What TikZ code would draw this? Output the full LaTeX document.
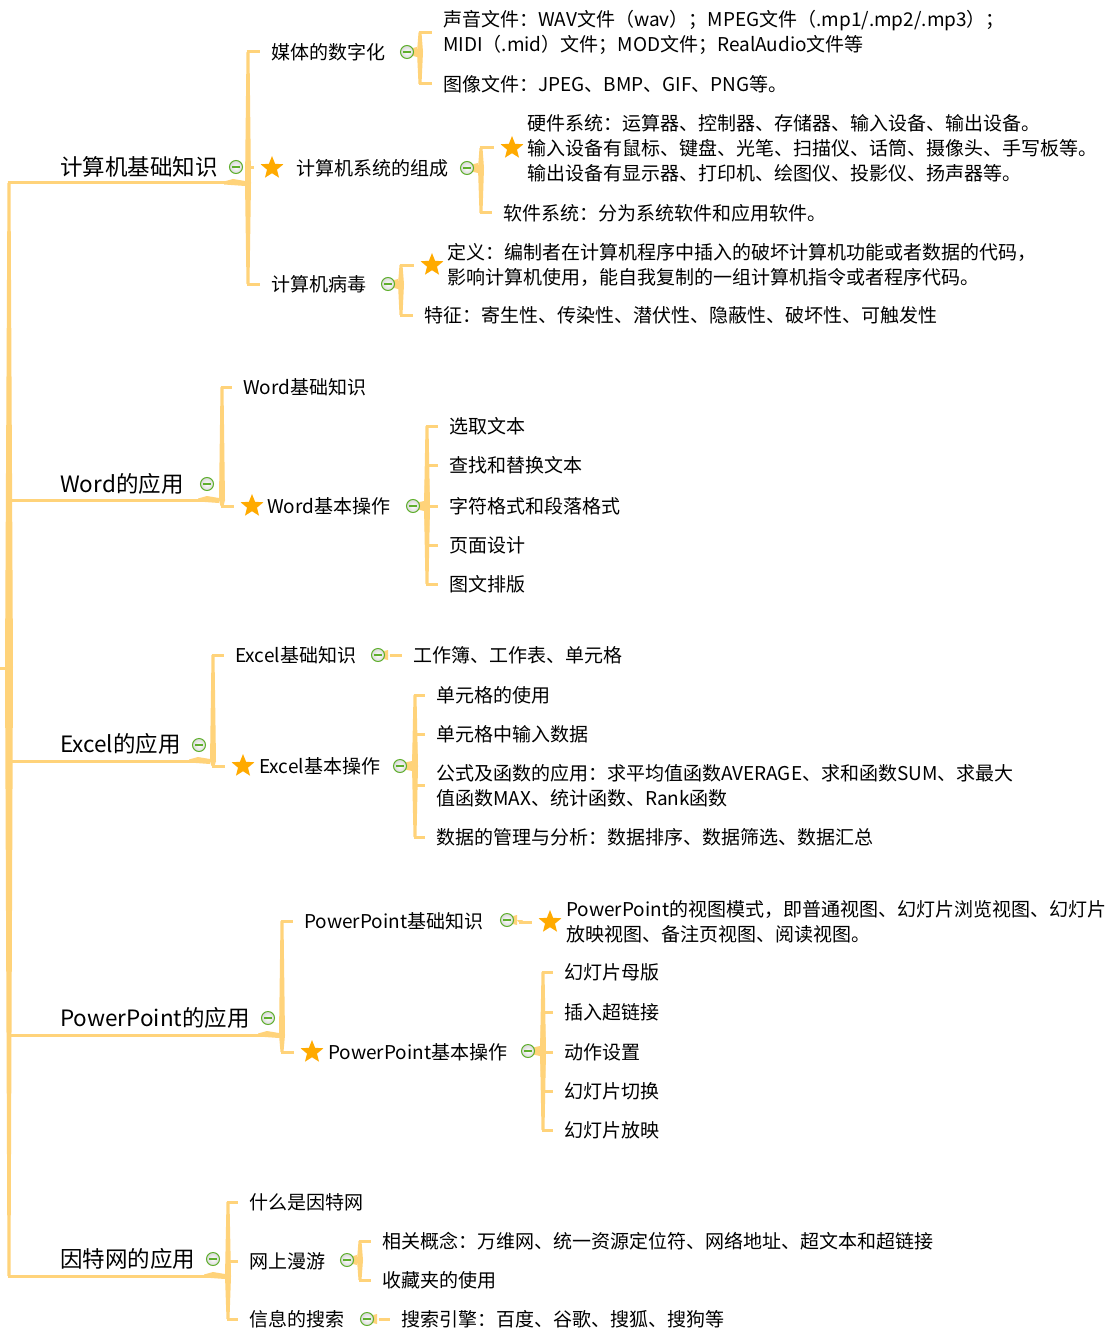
\documentclass[tikz,border=0pt]{standalone}
\usepackage{fontspec}
\setmainfont{Noto Sans CJK SC}
\usetikzlibrary{shapes.geometric,calc,backgrounds}

\definecolor{forkc}{RGB}{255,211,122}
\definecolor{starc}{RGB}{255,170,0}
\definecolor{minusc}{RGB}{95,175,45}

\tikzset{
  maintopic/.style={anchor=west,inner sep=0pt,font=\fontsize{22.5}{28}\selectfont},
  subtopic/.style={anchor=west,inner sep=0pt,align=left,font=\fontsize{19}{25}\selectfont},
  foldmark/.style={circle,draw=minusc,line width=1pt,inner color=white,outer color=black!15,
    minimum size=13pt,inner sep=0pt,
    path picture={\draw[minusc,line width=1.4pt] (path picture bounding box.center) +(-3.8pt,0) -- +(3.8pt,0);}},
  prio/.style={star,star points=5,star point ratio=2.3,fill=starc,inner sep=0pt,minimum size=24pt,outer sep=0pt},
  forkline/.style={forkc,line width=3pt},
}

% one bracket: tip coordinate -> every child
\newcommand\mmfork[2]{%
  \foreach \kid in {#2}{
    \fill[forkc] ($(#1)+(-3pt,0)$) -- ($(#1 |- \kid.west)+(-1.5pt,0)$)
      -- ($(#1 |- \kid.west)+(1.5pt,0)$) -- ($(#1)+(3pt,0)$) -- cycle;
    \draw[forkline] ($(#1 |- \kid.west)+(-1.5pt,0)$) -- ($(\kid.west)+(-11pt,0)$);
  }}
% wedge from a fold mark into its bracket
\newcommand\mmtip[2]{%
  \fill[forkc] ($(#1.center)+(0,2.5pt)$) -- ($(#2)+(-3pt,5pt)$)
    -- ($(#2)+(-3pt,-5pt)$) -- ($(#1.center)+(0,-2.5pt)$) -- cycle;}

\begin{document}
\begin{tikzpicture}[x=1pt,y=-1pt]
  \useasboundingbox (0,0) rectangle (1118,1332);
  \coordinate (root) at (0,667);

  % main topics
  \node[maintopic] (m1) at (60,167) {计算机基础知识};
  \node[foldmark] (m1-f) at (236,167) {};
  \coordinate (m1-t) at (248,183);
  \coordinate (m1-r) at (7.5,183);

  \node[maintopic] (m2) at (60,484) {Word的应用};
  \node[foldmark] (m2-f) at (207,484) {};
  \coordinate (m2-t) at (222,500);
  \coordinate (m2-r) at (7.5,500);

  \node[maintopic] (m3) at (60,744) {Excel的应用};
  \node[foldmark] (m3-f) at (199,745) {};
  \coordinate (m3-t) at (213,761);
  \coordinate (m3-r) at (7.5,761);

  \node[maintopic] (m4) at (60,1018) {PowerPoint的应用};
  \node[foldmark] (m4-f) at (268,1018) {};
  \coordinate (m4-t) at (282,1035);
  \coordinate (m4-r) at (7.5,1035);

  \node[maintopic] (m5) at (60,1259) {因特网的应用};
  \node[foldmark] (m5-f) at (213,1259) {};
  \coordinate (m5-t) at (228,1276);
  \coordinate (m5-r) at (7.5,1276);

  % computer basics
  \node[subtopic] (a1) at (271,52) {媒体的数字化};
  \node[foldmark] (a1-f) at (407,52) {};
  \coordinate (a1-t) at (420,52);
  \node[subtopic] (a11) at (443,32.5) {声音文件：WAV文件（wav）；MPEG文件（.mp1/.mp2/.mp3）；\\MIDI（.mid）文件；MOD文件；RealAudio文件等};
  \node[subtopic] (a12) at (443,84) {图像文件：JPEG、BMP、GIF、PNG等。};

  \node[prio] (a2-s) at (272,168) {};
  \node[subtopic] (a2) at (296,168) {计算机系统的组成};
  \node[foldmark] (a2-f) at (467,168) {};
  \coordinate (a2-t) at (481,168);
  \node[prio] (a21-s) at (512,148) {};
  \node[subtopic] (a21) at (527,148) {硬件系统：运算器、控制器、存储器、输入设备、输出设备。\\输入设备有鼠标、键盘、光笔、扫描仪、话筒、摄像头、手写板等。\\输出设备有显示器、打印机、绘图仪、投影仪、扬声器等。};
  \node[subtopic] (a22) at (503,213) {软件系统：分为系统软件和应用软件。};

  \node[subtopic] (a3) at (271,284) {计算机病毒};
  \node[foldmark] (a3-f) at (388,284) {};
  \coordinate (a3-t) at (401,284);
  \node[prio] (a31-s) at (432,265) {};
  \node[subtopic] (a31) at (447,264.5) {定义：编制者在计算机程序中插入的破坏计算机功能或者数据的代码，\\影响计算机使用，能自我复制的一组计算机指令或者程序代码。};
  \node[subtopic] (a32) at (424,315) {特征：寄生性、传染性、潜伏性、隐蔽性、破坏性、可触发性};

  % word
  \node[subtopic] (b1) at (243,387) {Word基础知识};
  \node[prio] (b2-s) at (252,506) {};
  \node[subtopic] (b2) at (267,506) {Word基本操作};
  \node[foldmark] (b2-f) at (413,506) {};
  \coordinate (b2-t) at (427,506);
  \node[subtopic] (b21) at (449,426) {选取文本};
  \node[subtopic] (b22) at (449,465) {查找和替换文本};
  \node[subtopic] (b23) at (449,506) {字符格式和段落格式};
  \node[subtopic] (b24) at (449,545) {页面设计};
  \node[subtopic] (b25) at (449,584) {图文排版};

  % excel
  \node[subtopic] (c1) at (235,655) {Excel基础知识};
  \node[foldmark] (c1-f) at (378,655) {};
  \coordinate (c1-t) at (391,655);
  \node[subtopic] (c11) at (413,655) {工作簿、工作表、单元格};
  \node[prio] (c2-s) at (243,766) {};
  \node[subtopic] (c2) at (259,766) {Excel基本操作};
  \node[foldmark] (c2-f) at (400,766) {};
  \coordinate (c2-t) at (415,766);
  \node[subtopic] (c21) at (436,695) {单元格的使用};
  \node[subtopic] (c22) at (436,734) {单元格中输入数据};
  \node[subtopic] (c23) at (436,785.5) {公式及函数的应用：求平均值函数AVERAGE、求和函数SUM、求最大\\值函数MAX、统计函数、Rank函数};
  \node[subtopic] (c24) at (436,837) {数据的管理与分析：数据排序、数据筛选、数据汇总};

  % powerpoint
  \node[subtopic] (d1) at (304,921) {PowerPoint基础知识};
  \node[foldmark] (d1-f) at (507,920) {};
  \coordinate (d1-t) at (520,920);
  \node[prio] (d11-s) at (550,922) {};
  \node[subtopic] (d11) at (566,921.5) {PowerPoint的视图模式，即普通视图、幻灯片浏览视图、幻灯片\\放映视图、备注页视图、阅读视图。};
  \node[prio] (d2-s) at (312,1052) {};
  \node[subtopic] (d2) at (328,1052) {PowerPoint基本操作};
  \node[foldmark] (d2-f) at (528,1051) {};
  \coordinate (d2-t) at (543,1051);
  \node[subtopic] (d21) at (564,972) {幻灯片母版};
  \node[subtopic] (d22) at (564,1012) {插入超链接};
  \node[subtopic] (d23) at (564,1052) {动作设置};
  \node[subtopic] (d24) at (564,1091) {幻灯片切换};
  \node[subtopic] (d25) at (564,1130) {幻灯片放映};

  % internet
  \node[subtopic] (e1) at (249,1202) {什么是因特网};
  \node[subtopic] (e2) at (249,1261) {网上漫游};
  \node[foldmark] (e2-f) at (347,1260) {};
  \coordinate (e2-t) at (360,1260);
  \node[subtopic] (e21) at (382,1241) {相关概念：万维网、统一资源定位符、网络地址、超文本和超链接};
  \node[subtopic] (e22) at (382,1280) {收藏夹的使用};
  \node[subtopic] (e3) at (249,1319) {信息的搜索};
  \node[foldmark] (e3-f) at (367,1319) {};
  \coordinate (e3-t) at (380,1319);
  \node[subtopic] (e31) at (401,1319) {搜索引擎：百度、谷歌、搜狐、搜狗等};

  \begin{scope}[on background layer]
    \fill[white] (0,0) rectangle (1118,1332);
    % trunk and underlines
    \fill[forkc] (root) rectangle (5,670);
    \fill[forkc] (m1-r) -- (5,667) -- (m5-r) -- ($(m5-r)+(3pt,0)$) -- (13,667) -- ($(m1-r)+(3pt,0)$) -- cycle;
    \foreach \m in {m1,m2,m3,m4,m5}{
      \draw[forkline] (\m-r) -- ($(\m-t)+(-20pt,0)$);
      \fill[forkc] ($(\m-t)+(-24pt,1.5pt)$) -- ($(\m-t)+(-15pt,4pt)$) -- ($(\m-t)+(-3pt,2pt)$)
        -- ($(\m-t)+(-3pt,-3pt)$) -- ($(\m-t)+(-24pt,-1.5pt)$) -- cycle;
    }
    \mmfork{m1-t}{a1,a2-s,a3}
    \mmfork{m2-t}{b1,b2-s}
    \mmfork{m3-t}{c1,c2-s}
    \mmfork{m4-t}{d1,d2-s}
    \mmfork{m5-t}{e1,e2,e3}
    % sub brackets
    \foreach \s in {a1,a2,a3,b2,c1,c2,d1,d2,e2,e3}{ \mmtip{\s-f}{\s-t} }
    \mmfork{a1-t}{a11,a12}
    \mmfork{a2-t}{a21-s,a22}
    \mmfork{a3-t}{a31-s,a32}
    \mmfork{b2-t}{b21,b22,b23,b24,b25}
    \mmfork{c1-t}{c11}
    \mmfork{c2-t}{c21,c22,c23,c24}
    \mmfork{d1-t}{d11-s}
    \mmfork{d2-t}{d21,d22,d23,d24,d25}
    \mmfork{e2-t}{e21,e22}
    \mmfork{e3-t}{e31}
  \end{scope}
\end{tikzpicture}
\end{document}
